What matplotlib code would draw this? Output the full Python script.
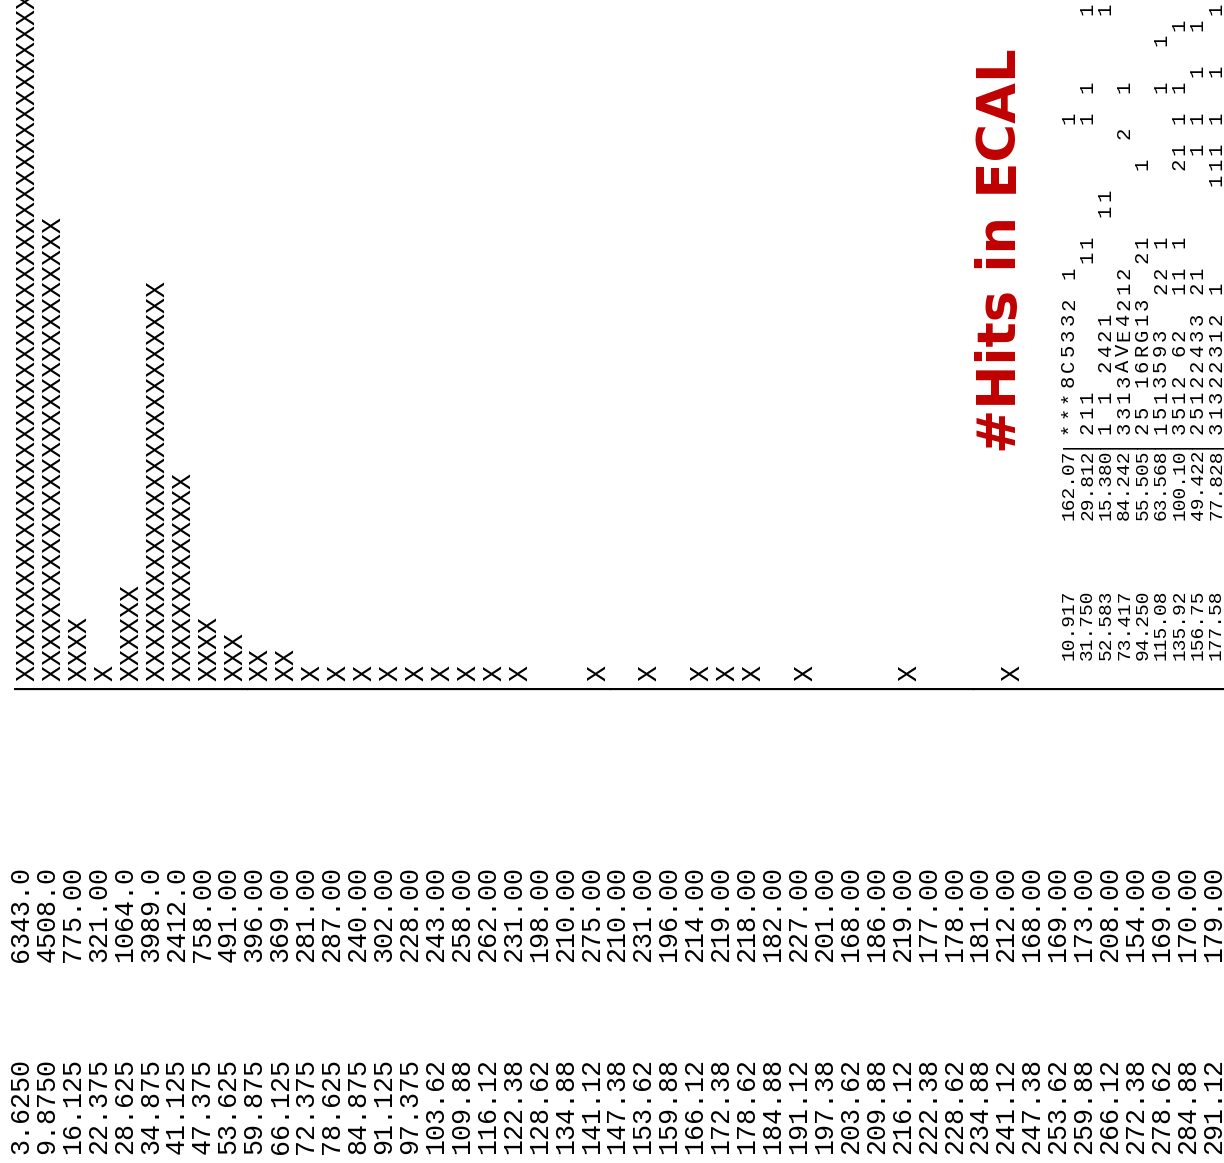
import matplotlib
matplotlib.use("Agg")
import matplotlib.pyplot as plt

# line-printer histogram: bin centre, contents, length of the bar of X's
bin_centres = ["3.6250", "9.8750", "16.125", "22.375", "28.625", "34.875", "41.125", "47.375",
               "53.625", "59.875", "66.125", "72.375", "78.625", "84.875", "91.125", "97.375",
               "103.62", "109.88", "116.12", "122.38", "128.62", "134.88", "141.12", "147.38",
               "153.62", "159.88", "166.12", "172.38", "178.62", "184.88", "191.12", "197.38",
               "203.62", "209.88", "216.12", "222.38", "228.62", "234.88", "241.12", "247.38",
               "253.62", "259.88", "266.12", "272.38", "278.62", "284.88", "291.12"]
contents = [6343, 4508, 775, 321, 1064, 3989, 2412, 758, 491, 396, 369, 281, 287, 240, 302, 228,
            243, 258, 262, 231, 198, 210, 275, 210, 231, 196, 214, 219, 218, 182, 227, 201,
            168, 186, 219, 177, 178, 181, 212, 168, 169, 173, 208, 154, 169, 170, 179]
bar_len = [43, 29, 4, 1, 6, 25, 13, 4, 3, 2, 2, 1, 1, 1, 1, 1,
           1, 1, 1, 1, 0, 0, 1, 0, 1, 0, 1, 1, 1, 0, 1, 0,
           0, 0, 1, 0, 0, 0, 1, 0, 0, 0, 0, 0, 0, 0, 0]

# second printout (scatter table) peeking in on the right
row_labels2 = ["10.917", "31.750", "52.583", "73.417", "94.250", "115.08", "135.92", "156.75", "177.58"]
row_values2 = ["162.07", "29.812", "15.380", "84.242", "55.505", "63.568", "100.10", "49.422", "77.828"]
row_cells2 = [
    [(0, "|***8C5332 1"), (21, "1")],
    [(0, "|211"), (12, "11"), (21, "1"), (23, "1"), (28, "1")],
    [(0, "|1 1 2421"), (15, "11"), (28, "1")],
    [(0, "|3313AVE4212"), (20, "2"), (23, "1")],
    [(0, "|25 16RG13  21"), (18, "1")],
    [(0, "|1513593  22 1"), (23, "1"), (26, "1")],
    [(0, "|3512 62  11 1"), (18, "21"), (21, "1"), (23, "1"), (27, "1")],
    [(0, "|25122433 21"), (19, "1"), (21, "1"), (24, "1"), (27, "1")],
    [(0, "|31322312 1"), (17, "111"), (21, "1"), (24, "1"), (28, "1")],
]

title = "#Hits in ECAL"

W, H = 1224, 1163
mono = ["Liberation Mono", "DejaVu Sans Mono"]


def fmt(v):
    digits = len(str(int(v)))
    return f"{v:.{max(5 - digits, 0)}f}"


fig = plt.figure(figsize=(W / 100, H / 100), dpi=100)
fig.patch.set_facecolor("white")

# main printout: one text line per bin, rotated; x = bin row, y = character column
row_px, char_px, x_first, y_start = 25.93, 16.0, 20.0, 1154.0
ax = fig.add_axes([0, 0, 1, 1])
ax.set_xlim(-x_first / row_px, (W - x_first) / row_px)
ax.set_ylim((y_start - H) / char_px, y_start / char_px)
ax.axis("off")
fs = char_px / 0.6 * 72 / 100
kw = dict(rotation=90, rotation_mode="anchor", ha="left", va="baseline",
          family=mono, fontsize=fs, color="black")
base = 8.2 / row_px
for i, (lab, c, n) in enumerate(zip(bin_centres, contents, bar_len)):
    ax.text(i + base, 0, lab, **kw)
    ax.text(i + base, 12, fmt(c), **kw)
    ax.text(i + base, 29, "|" + "X" * n, **kw)

# right-hand printout
row2_px, char2_px, x2_first, y2_start = 18.4, 11.7, 1068.0, 660.0
cell_px = 15.5
ax2 = fig.add_axes([0, 0, 1, 1])
ax2.set_xlim(-x2_first / row2_px, (W - x2_first) / row2_px)
ax2.set_ylim((y2_start - H) / char2_px, y2_start / char2_px)
ax2.axis("off")
ax2.patch.set_alpha(0)
fs2 = char2_px / 0.6 * 72 / 100
kw2 = dict(kw, fontsize=fs2)
kw_cell = dict(kw, fontsize=fs2 * 1.05)
base2 = 5.8 / row2_px
base_cell = 6.1 / row2_px
for j, (lab, val, cells) in enumerate(zip(row_labels2, row_values2, row_cells2)):
    ax2.text(j + base2, 0, lab, **kw2)
    ax2.text(j + base2, 12, val, **kw2)
    for idx, s in cells:
        for m, ch in enumerate(s):
            if ch != " ":
                ax2.text(j + base_cell, 18 + (idx + m) * cell_px / char2_px, ch, **kw_cell)

fig.text(1016 / W, 1 - 453 / H, title, rotation=90, rotation_mode="anchor",
         ha="left", va="baseline", fontsize=38, fontweight="bold",
         family=["DejaVu Sans"], color="#c00000")

fig.savefig("out.png", dpi=100)
